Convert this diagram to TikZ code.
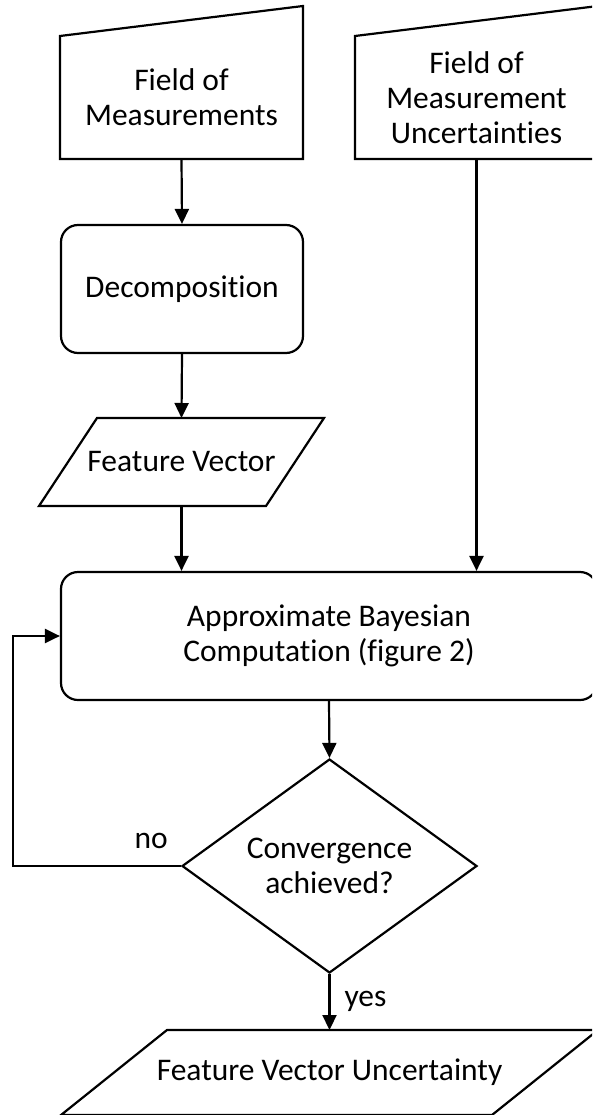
\documentclass[tikz,border=0pt]{standalone}
\usepackage{fontspec}
\setmainfont{Carlito}[Ligatures=NoCommon]
\usetikzlibrary{arrows.meta, shapes.geometric}

\begin{document}
\begin{tikzpicture}[x=1pt, y=-1pt, font=\fontsize{31.5}{35}\selectfont,
  flow/.style={line width=2.2pt, -{Triangle[length=15pt, width=14pt]}},
  outline/.style={line width=2.2pt, line join=miter},
  frame/.style={inner sep=0pt, outer sep=1pt, align=center},
  procbox/.style={draw, line width=2.2pt, rounded corners=17pt, inner sep=0pt, align=center},
  lbl/.style={inner sep=0pt}]
  \useasboundingbox (0,0) rectangle (592,1115);
  \clip (0,0) rectangle (592,1115);

  % inputs (manual input shape)
  \node[frame, minimum width=241pt, minimum height=121pt] (meas) at (181.5,97.5) {Field of\\Measurements};
  \node[frame, minimum width=241pt, minimum height=121pt] (uncert) at (476.5,97.5) {Field of\\Measurement\\Uncertainties};
  \draw[outline] (meas.south west) -- (meas.south east) -- ([yshift=30pt]meas.north east) -- (meas.north west) -- cycle;
  \draw[outline] (uncert.south west) -- (uncert.south east) -- ([yshift=30pt]uncert.north east) -- (uncert.north west) -- cycle;

  \node[procbox, minimum width=242pt, minimum height=128pt] (decomp) at (182,289) {Decomposition};

  \node[frame, minimum width=225pt, minimum height=86pt] (feat) at (181.5,462) {Feature Vector};
  \draw[outline] ([xshift=29pt]feat.north west) -- ([xshift=29pt]feat.north east) -- ([xshift=-29pt]feat.south east) -- ([xshift=-29pt]feat.south west) -- cycle;

  \node[procbox, minimum width=536pt, minimum height=128pt] (abc) at (329,636) {Approximate Bayesian\\Computation (figure 2)};

  \node[draw, diamond, line width=2.2pt, inner sep=0pt, aspect=1.37, minimum width=295pt, minimum height=214pt, align=center] (conv) at (329.5,866) {Convergence\\achieved?};

  \node[frame, minimum width=429pt, minimum height=83pt] (result) at (329.5,1072.5) {Feature Vector Uncertainty};
  \draw[outline] ([xshift=53pt]result.north west) -- ([xshift=53pt]result.north east) -- ([xshift=-53pt]result.south east) -- ([xshift=-53pt]result.south west) -- cycle;

  \coordinate (loop) at (13,866);

  \draw[flow] (meas.south) -- (decomp.north);
  \draw[flow] (decomp.south) -- (feat.north);
  \draw[flow] (feat.south) -- (feat.south |- abc.north);
  \draw[flow] (uncert.south) -- (uncert.south |- abc.north);
  \draw[flow] (abc.south) -- (conv.north);
  \draw[flow] (conv.south) -- node[lbl, anchor=base west, xshift=14pt, yshift=-4pt] {yes} (result.north);
  \draw[flow] (conv.west) node[lbl, anchor=base east, xshift=-12pt, yshift=18pt] {no} -- (loop) |- (abc.west);
\end{tikzpicture}
\end{document}
